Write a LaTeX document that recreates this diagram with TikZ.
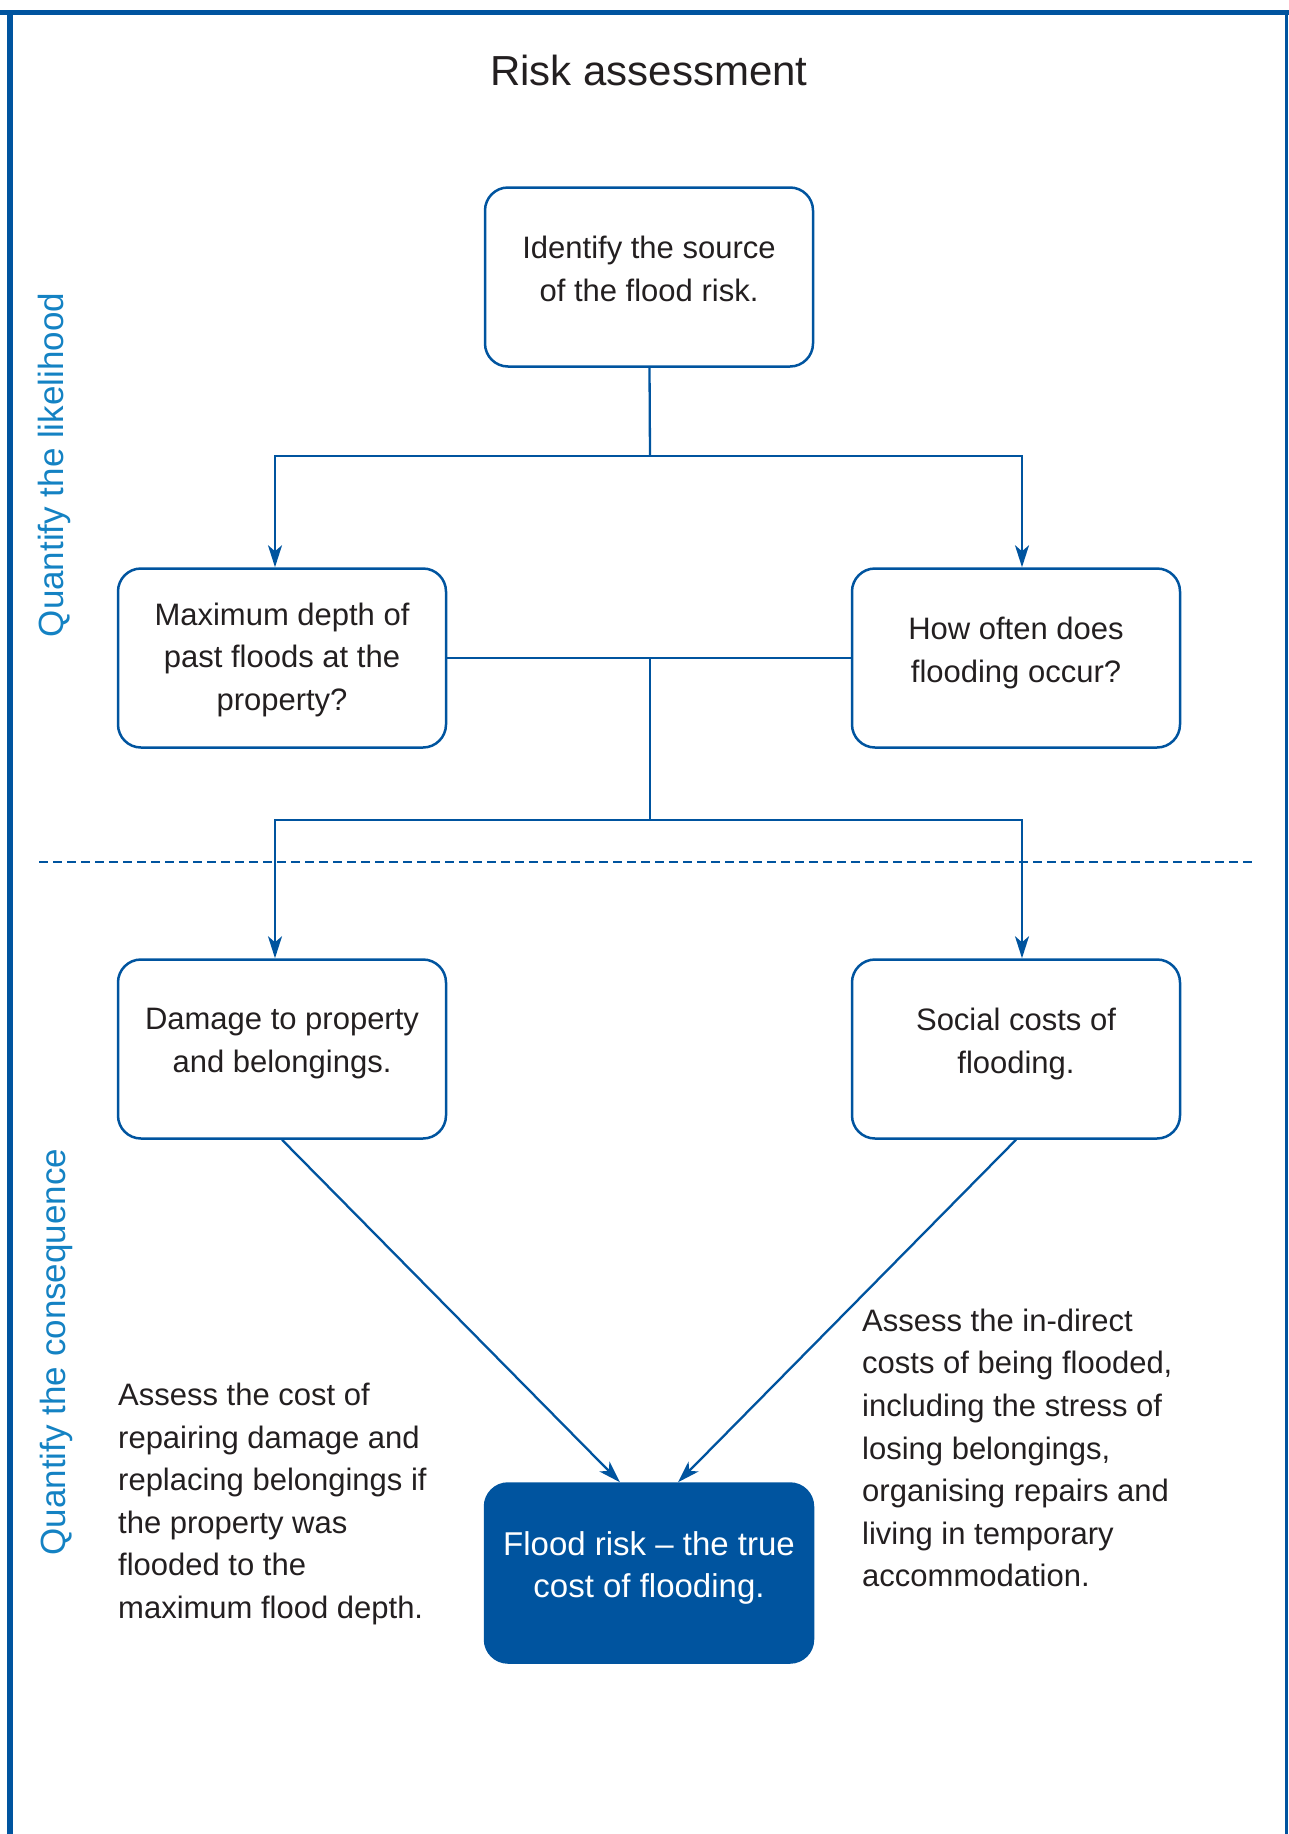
\documentclass[tikz,border=0pt]{standalone}
\usepackage{fontspec}
\setmainfont{Liberation Sans}
\usepackage{tikz}
\usetikzlibrary{arrows.meta}
\definecolor{frameblue}{RGB}{0,84,159}
\definecolor{sideblue}{RGB}{20,130,195}
\definecolor{inkgrey}{RGB}{35,31,32}
\tikzset{
stepbox/.style={draw=frameblue, line width=2.5pt, rounded corners=23pt, minimum width=328pt, minimum height=179pt, align=center, text=inkgrey, text depth=17pt, font=\fontsize{31}{42.6}\selectfont},
resultbox/.style={stepbox, fill=frameblue, text=white, font=\fontsize{33}{42.6}\selectfont},
link/.style={draw=frameblue, line width=2.3pt},
arrow/.style={link, -{Stealth[length=22pt,width=14pt,inset=6pt]}},
note/.style={anchor=west, align=left, text=inkgrey, inner sep=0pt, font=\fontsize{31}{42.6}\selectfont},
sidelabel/.style={rotate=90, text=sideblue, font=\fontsize{35}{40}\selectfont}}

\begin{document}
\begin{tikzpicture}[x=1pt,y=-1pt]
    \useasboundingbox (0,0) rectangle (1289,1834);

                \draw[frameblue, line width=5pt] (0,12) -- (1289,12);
                \draw[frameblue, line width=6pt] (10,10) -- (10,1834);
                \draw[frameblue, line width=3pt] (1286,10) -- (1286,1834);

                \node[text=inkgrey, font=\fontsize{42}{48}\selectfont] (title) at (649,70) {Risk assessment};
                \node[sidelabel] (likely) at (54,465) {Quantify the likelihood};
                \node[sidelabel] (conseq) at (56,1352) {Quantify the consequence};

                \node[stepbox] (src) at (649,277) {Identify the source\\of the flood risk.};
                \node[stepbox, text depth=3pt] (depth) at (282,658) {Maximum depth of\\past floods at the\\property?};
                \node[stepbox] (often) at (1016,658) {How often does\\flooding occur?};
                \node[stepbox] (damage) at (282,1049) {Damage to property\\and belongings.};
                \node[stepbox] (social) at (1016,1049) {Social costs of\\flooding.};
                \node[resultbox] (truecost) at (649,1573) {Flood risk -- the true\\cost of flooding.};

                \node[note] (costnote) at (118,1504) {Assess the cost of\\repairing damage and\\replacing belongings if\\the property was\\flooded to the\\maximum flood depth.};
                \node[note] (stressnote) at (862,1448) {Assess the in-direct\\costs of being flooded,\\including the stress of\\losing belongings,\\organising repairs and\\living in temporary\\accommodation.};

                \coordinate (topjoin) at (650,456);
                \coordinate (midjoin) at (650,658);
                \coordinate (lowjoin) at (650,820);

                \draw[link] (src) -- (topjoin);
                \draw[arrow] (topjoin) -| ([xshift=-7pt]depth.north);
                \draw[arrow] (topjoin) -| ([xshift=6pt]often.north);
                \draw[link] (depth) -- (often);
                \draw[link] (midjoin) -- (lowjoin);
                \draw[arrow] (lowjoin) -| ([xshift=-7pt]damage.north);
                \draw[arrow] (lowjoin) -| ([xshift=6pt]social.north);
                \draw[arrow] (damage.south) -- ([xshift=-29pt]truecost.north);
                \draw[arrow] (social.south) -- ([xshift=29pt]truecost.north);

                \draw[frameblue, line width=2pt, dash pattern=on 9pt off 5pt] (39,862) -- (1252,862);

            \end{tikzpicture}
\end{document}
